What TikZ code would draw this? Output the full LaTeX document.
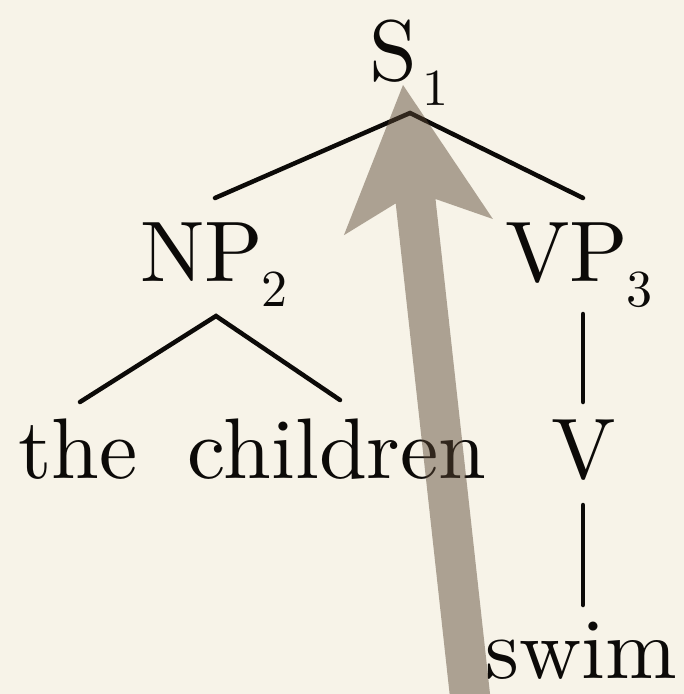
\documentclass[tikz,border=0pt]{standalone}
\usepackage{fontspec}
\newfontfamily\lmten[Extension=.otf]{lmroman10-regular}
\definecolor{bg}{RGB}{247,243,232}
\definecolor{arrowc}{RGB}{89,70,51}
\definecolor{ink}{RGB}{12,10,8}
\newcommand\subtxt[1]{\raisebox{-25pt}{\fontsize{52}{52}\selectfont #1}}
\begin{document}
\begin{tikzpicture}[x=1pt,y=-1pt,
  lbl/.style={inner sep=0pt, anchor=base, text=ink, font=\lmten\fontsize{86}{90}\selectfont},
  edge/.style={draw=ink, line width=4.5pt, line cap=round, line join=miter},
  bigarrow/.style={fill=arrowc, fill opacity=0.47}]
\fill[bg] (0,0) rectangle (684,694);
\useasboundingbox (0,0) rectangle (684,694);
% labels
\node[lbl] (S) at (409,80) {S\kern5pt\subtxt{1}};
\node[lbl] (NP) at (214,281) {NP\kern-2pt\subtxt{2}};
\node[lbl] (VP) at (579,281) {VP\kern-2pt\subtxt{3}};
\node[lbl] (the) at (78,478) {the};
\node[lbl] (children) at (337,478) {children};
\node[lbl] (V) at (584,478) {V};
\node[lbl] (swim) at (581,678) {swim};
% connector end points
\coordinate (Sj) at (410,113);
\coordinate (NPtop) at (215,198);
\coordinate (VPtop) at (583,198);
\coordinate (NPj) at (216,316);
\coordinate (thetop) at (80,402);
\coordinate (childtop) at (340,400);
\coordinate (VPbot) at (583,314);
\coordinate (Vtop) at (583,402);
\coordinate (Vbot) at (583,505);
\coordinate (swimtop) at (583,605);
\draw[edge] (NPtop) -- (Sj) -- (VPtop);
\draw[edge] (thetop) -- (NPj) -- (childtop);
\draw[edge] (VPbot) -- (Vtop);
\draw[edge] (Vbot) -- (swimtop);
% big arrow
\begin{scope}
\clip (0,0) rectangle (684,694);
\coordinate (tip) at (403,85);
\fill[bigarrow] (tip) -- (492.9,219.0) -- (435.5,199.0) -- (494,730) -- (454,734) -- (395.7,203.4) -- (343.9,235.2) -- cycle;
\end{scope}
\end{tikzpicture}
\end{document}
